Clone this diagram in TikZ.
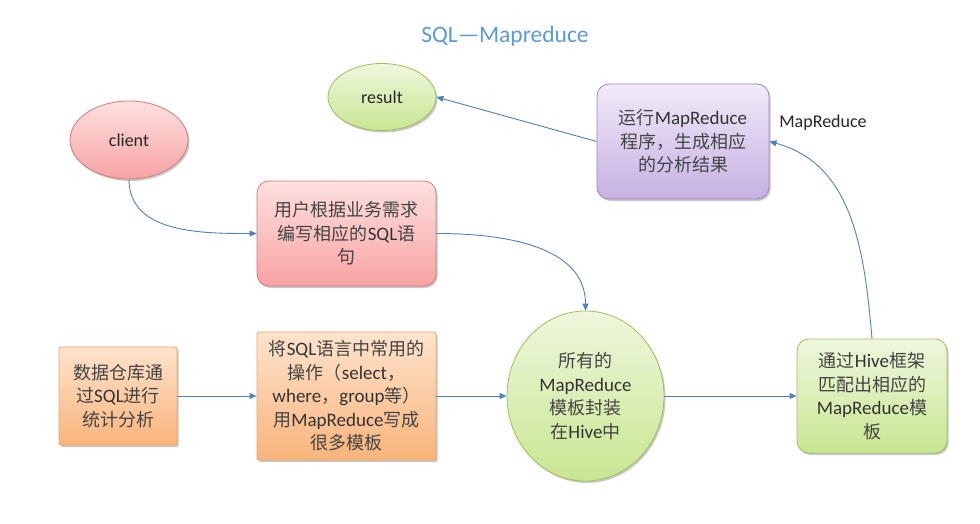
\documentclass[tikz,border=0pt]{standalone}
\usepackage{fontspec}
\setmainfont{Carlito}
\newfontfamily\cjk{Noto Sans CJK SC}
\newcommand{\en}[1]{{\fontsize{19}{23.5}\selectfont\rmfamily\color{black!80}#1}}
\usetikzlibrary{arrows.meta,shapes.geometric,shadows}
\definecolor{linec}{HTML}{4F81BD}
\definecolor{titleblue}{HTML}{5B9BD5}
\definecolor{txt}{HTML}{444444}
\definecolor{pinkT}{HTML}{FDE0E0}
\definecolor{pinkB}{HTML}{F8A3A3}
\definecolor{pinkD}{HTML}{D27A7A}
\definecolor{orT}{HTML}{FDE3CC}
\definecolor{orB}{HTML}{F9B47C}
\definecolor{orD}{HTML}{F3A464}
\definecolor{grT}{HTML}{EEF7DD}
\definecolor{grB}{HTML}{C9E691}
\definecolor{grD}{HTML}{9CBF5E}
\definecolor{puT}{HTML}{F1EAF8}
\definecolor{puB}{HTML}{C6B1E2}
\definecolor{puD}{HTML}{9E84C4}
\tikzset{
  shad/.style={drop shadow={shadow xshift=1.5pt,shadow yshift=-2pt,opacity=0.3,fill=black!70}},
  basenode/.style={shad,line width=0.8pt,align=center,inner sep=2pt,text=txt,
    font=\fontsize{18}{23.5}\selectfont\cjk},
  pinkbox/.style={basenode,rectangle,rounded corners=12pt,top color=pinkT,bottom color=pinkB,draw=pinkD},
  purplebox/.style={basenode,rectangle,rounded corners=12pt,top color=puT,bottom color=puB,draw=puD},
  orangebox/.style={basenode,rectangle,rounded corners=1.5pt,top color=orT,bottom color=orB,draw=orD},
  greenbox/.style={basenode,rectangle,rounded corners=12pt,top color=grT,bottom color=grB,draw=grD},
  greenell/.style={basenode,ellipse,inner sep=0pt,top color=grT,bottom color=grB,draw=grD},
  pinkell/.style={basenode,ellipse,inner sep=0pt,top color=pinkT,bottom color=pinkB,draw=pinkD},
  ltext/.style={text=black!85,font=\fontsize{18}{20}\selectfont},
  conn/.style={draw=linec,line width=0.9pt,-{Triangle[length=7pt,width=6pt]}}
}
\begin{document}
\begin{tikzpicture}[x=1pt,y=-1pt]
\useasboundingbox[fill=white] (0,0) rectangle (980,524);
\node[text=titleblue,font=\fontsize{23.5}{26}\selectfont] (title) at (505,36) {SQL—Mapreduce};
\node[greenell,minimum width=108pt,minimum height=67pt,ltext] (result) at (382,97) {result};
\node[pinkell,minimum width=118pt,minimum height=78pt,ltext] (client) at (129,140) {client};
\node[pinkbox,minimum width=179pt,minimum height=105pt] (pink) at (346.5,233.5)
  {用户根据业务需求\\编写相应的\en{SQL}语\\句};
\node[purplebox,minimum width=172pt,minimum height=115pt] (purple) at (683,141.5)
  {运行\en{MapReduce}\\程序，生成相应\\的分析结果};
\node[ltext] (mrlabel) at (823,123) {MapReduce};
\node[orangebox,minimum width=118pt,minimum height=98pt] (o1) at (118,396)
  {数据仓库通\\过\en{SQL}进行\\统计分析};
\node[orangebox,minimum width=179pt,minimum height=128pt] (o2) at (346.5,396)
  {将\en{SQL}语言中常用的\\操作（\en{select}，\\\en{where}，\en{group}等）\\用\en{MapReduce}写成\\很多模板};
\node[greenell,minimum width=157pt,minimum height=170pt] (circ) at (585.5,396)
  {所有的\\\en{MapReduce}\\模板封装\\在\en{Hive}中};
\node[greenbox,minimum width=150pt,minimum height=114pt] (gbox) at (872,396)
  {通过\en{Hive}框架\\匹配出相应的\\\en{MapReduce}模\\板};
\draw[conn] (client.south) to[out=-90,in=180] (pink.west);
\draw[conn] (pink.east) to[out=0,in=90] (circ.north);
\draw[conn] (o1.east) -- (o2.west);
\draw[conn] (o2.east) -- (circ.west);
\draw[conn] (circ.east) -- (gbox.west);
\draw[conn] (gbox.north) to[out=95,in=-15] (purple.east);
\draw[conn] (purple.west) -- (result.east);
\end{tikzpicture}
\end{document}
